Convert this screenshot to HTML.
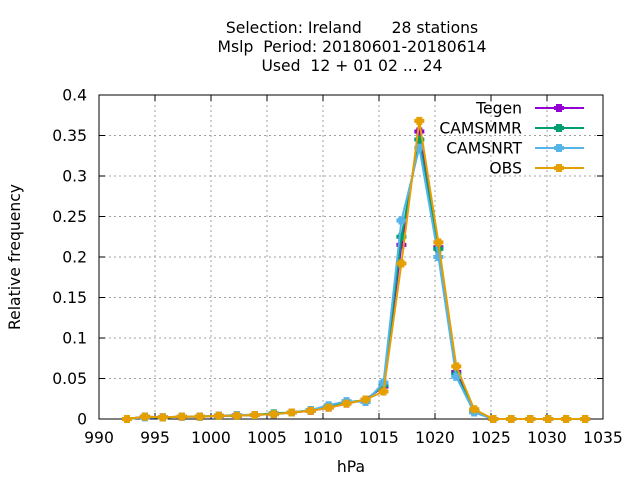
<!DOCTYPE html>
<html><head><meta charset="utf-8"><style>body{margin:0;background:#fff}svg{display:block;font-family:"DejaVu Sans","Liberation Sans",sans-serif}text{white-space:pre}</style></head>
<body>
<svg id="chart" width="640" height="480">
<g id="grid"></g>
<g id="axes"></g>
<g id="series"></g>
<g id="legend"></g>
<text x="352" y="33" text-anchor="middle" font-size="15.6">Selection: Ireland      28 stations</text>
<text x="352" y="52" text-anchor="middle" font-size="15.6">Mslp  Period: 20180601-20180614</text>
<text x="352" y="71" text-anchor="middle" font-size="15.6">Used  12 + 01 02 ... 24</text>
<text x="351" y="472" text-anchor="middle" font-size="15.6">hPa</text>
<text x="20" y="257" text-anchor="middle" font-size="15.6" transform="rotate(-90 20 257)">Relative frequency</text>
</svg>
<script>
const xCats=[992.5,994.1,995.7,997.4,999.0,1000.7,1002.3,1003.9,1005.6,1007.2,1008.9,1010.5,1012.1,1013.8,1015.4,1017.0,1018.6,1020.3,1021.9,1023.5,1025.2,1026.8,1028.5,1030.1,1031.7,1033.4];
const tegen=[0,0.003,0.002,0.003,0.003,0.004,0.004,0.005,0.006,0.008,0.010,0.014,0.019,0.024,0.040,0.215,0.355,0.212,0.058,0.010,0,0,0,0,0,0];
const camsmmr=[0,0.003,0.002,0.003,0.003,0.004,0.004,0.005,0.007,0.008,0.011,0.015,0.021,0.023,0.042,0.225,0.345,0.210,0.055,0.010,0,0,0,0,0,0];
const camsnrt=[0,0.002,0.002,0.003,0.003,0.004,0.005,0.005,0.006,0.008,0.011,0.017,0.022,0.021,0.045,0.245,0.335,0.200,0.052,0.008,0,0,0,0,0,0];
const obs=[0,0.003,0.002,0.003,0.003,0.004,0.004,0.005,0.006,0.008,0.010,0.014,0.019,0.024,0.034,0.192,0.368,0.218,0.065,0.012,0,0,0,0,0,0];
const xTicks=[990,995,1000,1005,1010,1015,1020,1025,1030,1035];
const yTicks=[0,0.05,0.1,0.15,0.2,0.25,0.3,0.35,0.4];
const yLabels=["0","0.05","0.1","0.15","0.2","0.25","0.3","0.35","0.4"];
const seriesNames=["Tegen","CAMSMMR","CAMSNRT","OBS"];
const seriesColors=["#9400d3","#009e73","#56b4e9","#e69f00"];
const L=99,R=603,T=95,B=419;
const xs=v=>L+(v-990)/45*(R-L);
const ys=v=>B-v/0.4*(B-T);
const NS="http://www.w3.org/2000/svg";
function mk(tag,attrs,parent,text){const e=document.createElementNS(NS,tag);for(const k in attrs)e.setAttribute(k,attrs[k]);if(text!==undefined)e.textContent=text;parent.appendChild(e);return e;}
const grid=document.getElementById('grid'),axes=document.getElementById('axes'),ser=document.getElementById('series'),leg=document.getElementById('legend');
xTicks.forEach(t=>{const x=xs(t);
 if(t>990&&t<1035){const g=mk('line',{x1:x,x2:x,y1:T,y2:B,stroke:'#a0a0a0','stroke-dasharray':'2,3'},grid);}
 const tk=mk('line',{x1:x,x2:x,y1:B,y2:B-6,stroke:'#000'},axes);
 const tk2=mk('line',{x1:x,x2:x,y1:T,y2:T+6,stroke:'#000'},axes);
 const lb=mk('text',{x:x,y:443,'text-anchor':'middle','font-size':15.6},axes,String(t));});
yTicks.forEach((t,i)=>{const y=ys(t);
 if(i>0&&i<yTicks.length-1){const g=mk('line',{x1:L,x2:R,y1:y,y2:y,stroke:'#a0a0a0','stroke-dasharray':'2,3'},grid);}
 const tk=mk('line',{x1:L,x2:L+6,y1:y,y2:y,stroke:'#000'},axes);
 const tk2=mk('line',{x1:R,x2:R-6,y1:y,y2:y,stroke:'#000'},axes);
 const lb=mk('text',{x:87,y:y+5.5,'text-anchor':'end','font-size':15.6},axes,yLabels[i]);});
const frame=mk('rect',{x:L,y:T,width:R-L,height:B-T,fill:'none',stroke:'#000'},axes);


function marker(x,y,c,p){const m=mk('path',{d:`M${x-3},${y-4}h6v2h2v4h-2v2h-6v-2h-2v-4h2z`,fill:c},p);return m;}
[tegen,camsmmr,camsnrt,obs].forEach((vals,si)=>{const c=seriesColors[si];
 const pts=vals.map((v,i)=>xs(xCats[i]).toFixed(1)+','+ys(v).toFixed(1)).join(' ');
 const pl=mk('polyline',{points:pts,fill:'none',stroke:c,'stroke-width':2},ser);
 
 
 vals.forEach((v,i)=>{const m=marker(xs(xCats[i]),ys(v),c,ser);
  
  });
 const y=108+si*20;
 const lt=mk('text',{x:522,y:y+5.5,'text-anchor':'end','font-size':15.6},leg,seriesNames[si]);
 
 
 const ll=mk('line',{x1:535,x2:584,y1:y,y2:y,stroke:c,'stroke-width':2},leg);
 
 
 marker(559,y,c,leg);
});
</script>
</body></html>
